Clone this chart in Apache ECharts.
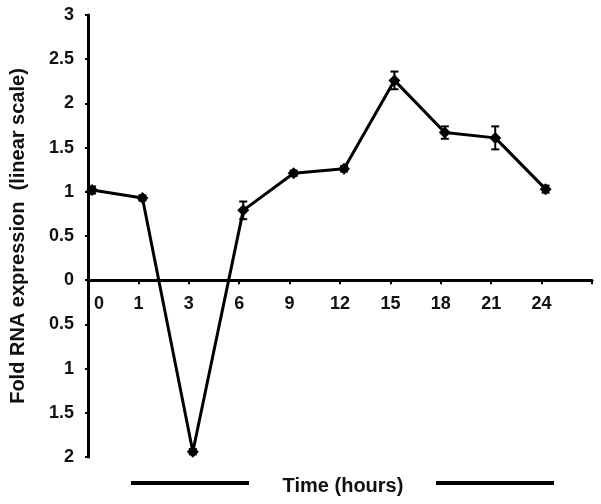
<!DOCTYPE html>
<html>
<head>
<meta charset="utf-8">
<script src="https://cdn.jsdelivr.net/npm/echarts@6/dist/echarts.min.js"></script>
<style>html,body{margin:0;padding:0;background:#fff;}#c{width:601px;height:504px;}</style>
</head>
<body>
<div id="c"></div>
<script>
var categories = ['0', '1', '3', '6', '9', '12', '15', '18', '21', '24'];
var values = [1.02, 0.93, -1.94, 0.79, 1.21, 1.26, 2.26, 1.67, 1.61, 1.03];
var errors = [0.04, 0.03, 0.03, 0.10, 0.03, 0.03, 0.10, 0.07, 0.13, 0.04];
var yTicks = [-2, -1.5, -1, -0.5, 0, 0.5, 1, 1.5, 2, 2.5, 3];
var yTitle = 'Fold RNA expression  (linear scale)';
var xTitle = 'Time (hours)';

var FONT = '"Liberation Sans", Arial, Helvetica, sans-serif';
var chart = echarts.init(document.getElementById('c'), null, {renderer: 'canvas'});

var lineData = values.map(function (v, i) { return [i, v]; });
var errData = values.map(function (v, i) { return [i, v - errors[i], v + errors[i]]; });

var GRID_H = 442;
var yMin = yTicks[0], yMax = yTicks[yTicks.length - 1];
var zeroOffset = -GRID_H * (0 - yMin) / (yMax - yMin);

chart.setOption({
  animation: false,
  backgroundColor: '#fff',
  grid: {left: 87, top: 15, width: 505, height: GRID_H, containLabel: false},
  xAxis: [{
    type: 'value', min: 0, max: 10, interval: 1, position: 'bottom',
    offset: zeroOffset,
    axisLine: {onZero: false, lineStyle: {color: '#000', width: 3}},
    axisTick: {show: true, length: 4, lineStyle: {color: '#000', width: 2}},
    splitLine: {show: false},
    axisLabel: {
      margin: 15, color: '#111', fontFamily: FONT, fontWeight: 'bold', fontSize: 18,
      formatter: function (v) {
        var i = Math.round(v);
        if (i >= categories.length) return '';
        return i === 0 ? '{z|' + categories[i] + '}' : categories[i];
      },
      rich: {z: {padding: [0, 0, 0, 22], fontFamily: FONT, fontWeight: 'bold', fontSize: 18, color: '#111'}}
    }
  }, {
    type: 'value', min: -0.08, max: 9.92, show: false, position: 'top'
  }],
  yAxis: {
    type: 'value', min: yMin, max: yMax, interval: 0.5,
    name: yTitle, nameLocation: 'middle', nameGap: 60, nameRotate: 90,
    nameTextStyle: {fontFamily: FONT, fontWeight: 'bold', fontSize: 20, color: '#111'},
    axisLine: {show: true, onZero: false, lineStyle: {color: '#000', width: 3}},
    axisTick: {show: true, inside: false, length: 3, lineStyle: {color: '#000', width: 2}},
    splitLine: {show: false},
    axisLabel: {
      margin: 14, color: '#111', fontFamily: FONT, fontWeight: 'bold', fontSize: 18,
      formatter: function (v) { return String(Math.abs(Math.round(v * 10) / 10)); }
    }
  },
  series: [{
    type: 'line', xAxisIndex: 1, data: lineData,
    symbol: 'diamond', symbolSize: 12, showSymbol: true,
    lineStyle: {color: '#000', width: 3}, itemStyle: {color: '#000'}, z: 3
  }, {
    type: 'custom', xAxisIndex: 1, data: errData, z: 4,
    renderItem: function (params, api) {
      var x = api.value(0);
      var lo = api.coord([x, api.value(1)]);
      var hi = api.coord([x, api.value(2)]);
      var w = 4;
      var st = {stroke: '#000', lineWidth: 2};
      return {type: 'group', children: [
        {type: 'line', shape: {x1: lo[0], y1: lo[1], x2: hi[0], y2: hi[1]}, style: st},
        {type: 'line', shape: {x1: lo[0] - w, y1: lo[1], x2: lo[0] + w, y2: lo[1]}, style: st},
        {type: 'line', shape: {x1: hi[0] - w, y1: hi[1], x2: hi[0] + w, y2: hi[1]}, style: st}
      ]};
    }
  }],
  graphic: [
    {type: 'rect', shape: {x: 131, y: 481, width: 118, height: 4}, style: {fill: '#000'}},
    {type: 'rect', shape: {x: 436, y: 481, width: 118, height: 4}, style: {fill: '#000'}},
    {type: 'text', x: 343, y: 486, style: {text: xTitle, fontFamily: FONT, fontWeight: 'bold', fontSize: 20, fill: '#111', align: 'center', verticalAlign: 'middle'}}
  ]
});
</script>
</body>
</html>
